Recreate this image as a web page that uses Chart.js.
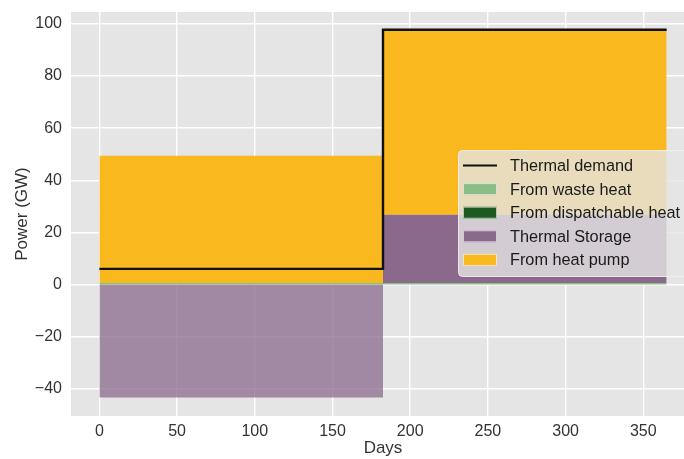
<!DOCTYPE html>
<html>
<head>
<meta charset="utf-8">
<title>Power balance</title>
<script src="https://cdn.jsdelivr.net/npm/chart.js@4.4.1/dist/chart.umd.min.js"></script>
<style>
    html, body { margin: 0; padding: 0; background: #fff; overflow: hidden; }
    #wrap { width: 700px; height: 459px; }
</style>
</head>
<body>
<div id="wrap"><canvas id="grafico" width="700" height="459"></canvas></div>
<script>
// inicio de cada periodo (dias) e fim do ano
const periodStart = [0, 182.5];
const yearEnd = 365;

// potencias em GW para cada periodo
const thermalDemand = [6.0, 97.8];
const wasteHeat = [0.6, 0.6];
const dispatchableHeat = [0, 0];
const thermalStorage = [-43.4, 26.2];
const heatPump = [48.8, 71.0];

// ticks
const xTickStep = 50;
const yTickStep = 20;

const fonte = '"Liberation Sans", Arial, sans-serif';
const cores = {
    demanda: '#111111',
    waste: '#8BBE86',
    disp: '#1C5A1F',
    storage: '#8A698D',
    storageNeg: 'rgba(138, 105, 141, 0.75)',
    bomba: '#FAB81F'
};

//monta os pontos em degrau a partir dos valores de cada periodo
function degraus(valores){
    var pontos = [];
    for (var i = 0; i < periodStart.length; i++){
        pontos.push({x: periodStart[i], y: valores[i]});
    }
    pontos.push({x: yearEnd, y: valores[valores.length - 1]});
    return pontos;
}

//empilhamento: positivos pra cima, armazenamento negativo pra baixo
var topoWaste = wasteHeat.slice();
var topoDisp = topoWaste.map((v, i) => v + dispatchableHeat[i]);
var topoStorage = topoDisp.map((v, i) => v + Math.max(thermalStorage[i], 0));
var storageNeg = thermalStorage.map(v => Math.min(v, 0));
var topoBomba = topoStorage.map((v, i) => v + heatPump[i]);

function area(label, valores, cor, alvo){
    return {
        label: label,
        data: degraus(valores),
        stepped: true,
        fill: alvo,
        backgroundColor: cor,
        borderColor: 'rgba(0,0,0,0)',
        borderWidth: 0,
        pointRadius: 0
    };
}

//ticks em multiplos do passo, sem os limites do eixo
function ticksPasso(passo){
    return function(scale){
        var lista = [];
        for (var v = Math.ceil(scale.min / passo) * passo; v <= scale.max; v += passo){
            lista.push({value: v});
        }
        scale.ticks = lista;
    };
}

//fundo cinza da area do grafico
const fundoPlugin = {
    id: 'fundo',
    beforeDraw(chart){
        const a = chart.chartArea;
        const c = chart.ctx;
        c.save();
        c.fillStyle = '#E5E5E5';
        c.fillRect(a.left, a.top, a.right - a.left, a.bottom - a.top);
        c.restore();
    }
};

//legenda desenhada dentro do grafico
const itensLegenda = [
    {texto: 'Thermal demand', linha: cores.demanda},
    {texto: 'From waste heat', cor: cores.waste},
    {texto: 'From dispatchable heat', cor: cores.disp},
    {texto: 'Thermal Storage', cor: cores.storage},
    {texto: 'From heat pump', cor: cores.bomba}
];

const legendaPlugin = {
    id: 'legenda',
    afterDraw(chart){
        const c = chart.ctx;
        c.save();
        c.beginPath();
        c.roundRect(458.5, 150.5, 240, 126, 4);
        c.fillStyle = 'rgba(229, 229, 229, 0.8)';
        c.fill();
        c.strokeStyle = 'rgba(240, 240, 240, 0.9)';
        c.lineWidth = 1;
        c.stroke();

        c.font = '16.3px ' + fonte;
        c.textBaseline = 'middle';
        itensLegenda.forEach(function(item, i){
            var y = 165.5 + i * 23.6;
            if (item.linha){
                c.beginPath();
                c.moveTo(463, y);
                c.lineTo(497, y);
                c.strokeStyle = item.linha;
                c.lineWidth = 2;
                c.stroke();
            } else {
                c.fillStyle = item.cor;
                c.fillRect(463, y - 6, 34, 12);
                c.strokeStyle = 'rgba(245, 245, 245, 0.7)';
                c.lineWidth = 1;
                c.strokeRect(463.5, y - 5.5, 33, 11);
            }
            c.fillStyle = '#1a1a1a';
            c.fillText(item.texto, 510, y + 1);
        });
        c.restore();
    }
};

function menos(v){
    return v < 0 ? '\u2212' + Math.abs(v) : String(v);
}

const ctx = document.getElementById('grafico');

new Chart(ctx, {
    type: 'line',
    data: {
        datasets: [
            {
                label: 'Thermal demand',
                data: degraus(thermalDemand),
                stepped: true,
                fill: false,
                borderColor: cores.demanda,
                borderWidth: 2.4,
                pointRadius: 0
            },
            area('From waste heat', topoWaste, cores.waste, 'origin'),
            area('From dispatchable heat', topoDisp, cores.disp, '-1'),
            area('Thermal Storage', storageNeg, cores.storageNeg, 'origin'),
            area('Thermal Storage', topoStorage, cores.storage, 2),
            area('From heat pump', topoBomba, cores.bomba, '-1')
        ]
    },
    options: {
        responsive: false,
        animation: false,
        devicePixelRatio: 1,
        layout: { padding: { top: 12, right: 5, bottom: 0, left: 0 } },
        plugins: {
            legend: { display: false },
            tooltip: { enabled: false }
        },
        scales: {
            x: {
                type: 'linear',
                min: -18.25,
                max: 383.25,
                afterBuildTicks: ticksPasso(xTickStep),
                grid: { color: '#ffffff', lineWidth: 1.4, drawTicks: false },
                border: { display: false },
                ticks: {
                    maxRotation: 0,
                    padding: 6,
                    color: '#333',
                    font: { family: fonte, size: 16 },
                    callback: menos
                },
                title: {
                    display: true,
                    text: 'Days',
                    color: '#333',
                    font: { family: fonte, size: 17 },
                    padding: { top: 0, bottom: 0 }
                },
                afterFit(s){
                    s.height = 43;
                    s.paddingLeft = 0;
                    s.paddingRight = 0;
                }
            },
            y: {
                min: -50.5,
                max: 104.6,
                afterBuildTicks: ticksPasso(yTickStep),
                grid: { color: '#ffffff', lineWidth: 1.4, drawTicks: false },
                border: { display: false },
                ticks: {
                    padding: 9,
                    color: '#333',
                    font: { family: fonte, size: 16 },
                    callback: menos
                },
                title: {
                    display: true,
                    text: 'Power (GW)',
                    color: '#333',
                    font: { family: fonte, size: 17 },
                    padding: { top: 12, bottom: 0 }
                },
                afterFit(s){
                    s.width = 71;
                    s.paddingTop = 0;
                    s.paddingBottom = 0;
                }
            }
        }
    },
    plugins: [fundoPlugin, legendaPlugin]
});
</script>
</body>
</html>
